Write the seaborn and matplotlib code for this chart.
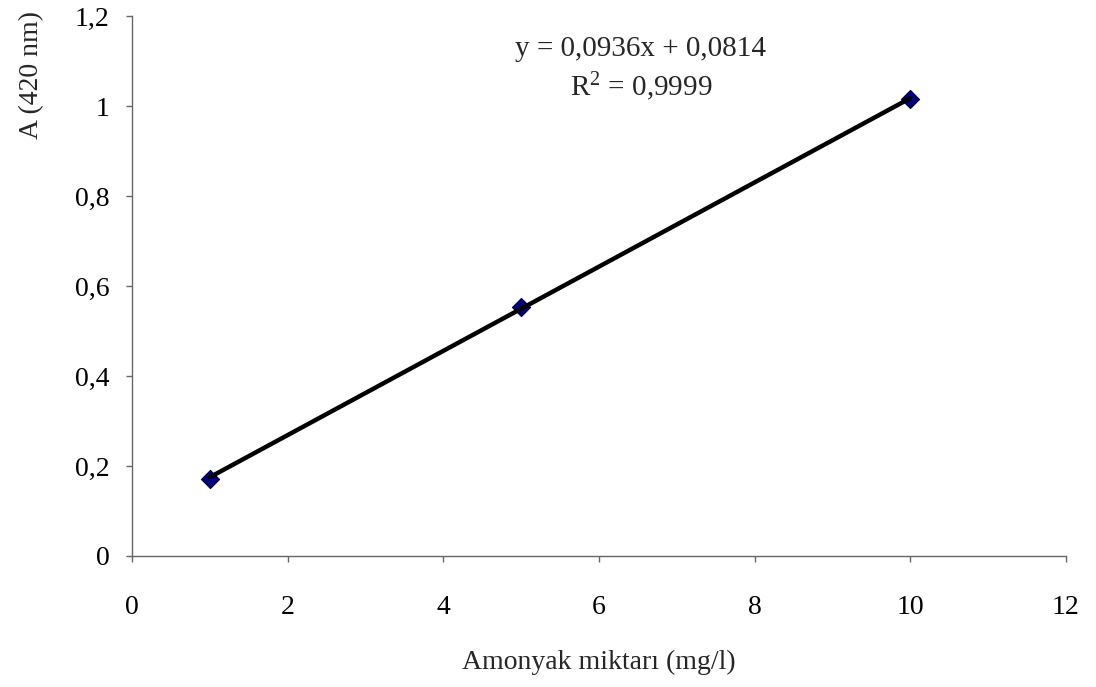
import matplotlib
matplotlib.use("Agg")
import matplotlib.pyplot as plt
import seaborn as sns
import numpy as np
import pandas as pd
from matplotlib.ticker import FuncFormatter

# measured points
amonyak = [1, 5, 10]
absorbans = [0.172, 0.553, 1.016]

# trendline coefficients as printed on the chart
slope = 0.0936
intercept = 0.0814
r_squared = 0.9999

x_ticks = [0, 2, 4, 6, 8, 10, 12]
y_ticks = [0, 0.2, 0.4, 0.6, 0.8, 1.0, 1.2]

sns.set_style("white")
plt.rcParams['font.family'] = ['Liberation Serif', 'DejaVu Serif']
plt.rcParams['mathtext.fontset'] = 'custom'
plt.rcParams['mathtext.rm'] = 'Liberation Serif'
plt.rcParams['mathtext.it'] = 'Liberation Serif:italic'

df = pd.DataFrame({'x': amonyak, 'y': absorbans})

fig = plt.figure(figsize=(10.96, 6.87), dpi=100)
ax = fig.add_axes([0.1204, 0.1907, 0.8522, 0.786])

sns.scatterplot(x='x', y='y', data=df, ax=ax, marker='D', s=85,
                color='#000080', edgecolor='#000040', linewidth=0.8, zorder=2)

# linear trendline over the data range
trend_x = np.array([min(amonyak), max(amonyak)])
trend = pd.DataFrame({'x': trend_x, 'y': slope * trend_x + intercept})
sns.lineplot(x='x', y='y', data=trend, ax=ax, color='black', linewidth=3.2, zorder=3)

ax.set_xlim(0, 12)
ax.set_ylim(0, 1.2)
ax.set_xticks(x_ticks)
ax.set_yticks(y_ticks)

def comma_fmt(v, pos):
    s = f"{v:g}"
    return s.replace('.', ',')

ax.xaxis.set_major_formatter(FuncFormatter(comma_fmt))
ax.yaxis.set_major_formatter(FuncFormatter(comma_fmt))

for side in ['top', 'right']:
    ax.spines[side].set_visible(False)
for side in ['left', 'bottom']:
    ax.spines[side].set_color('#666666')
    ax.spines[side].set_linewidth(1.0)

ax.tick_params(axis='both', which='major', direction='out', length=4.3, width=1,
               color='#666666', labelcolor='black', labelsize=20, bottom=True, left=True)
ax.tick_params(axis='x', pad=24)
ax.tick_params(axis='y', pad=12)

ax.set_xlabel('Amonyak miktarı (mg/l)', fontsize=20)
ax.set_ylabel('A (420 nm)', fontsize=20)
ax.xaxis.set_label_coords(0.5, -0.174)
ax.yaxis.set_label_coords(-0.094, 0.891)

ax.text(6.54, 1.127, f"y = {slope:.4f}x + {intercept:.4f}".replace('.', ','),
        ha='center', va='center', fontsize=21)
ax.text(6.54, 1.042, f"R$^2$ = {r_squared:.4f}".replace('.', ','),
        ha='center', va='center', fontsize=21)

plt.savefig('out.png', dpi=100)
plt.close()
